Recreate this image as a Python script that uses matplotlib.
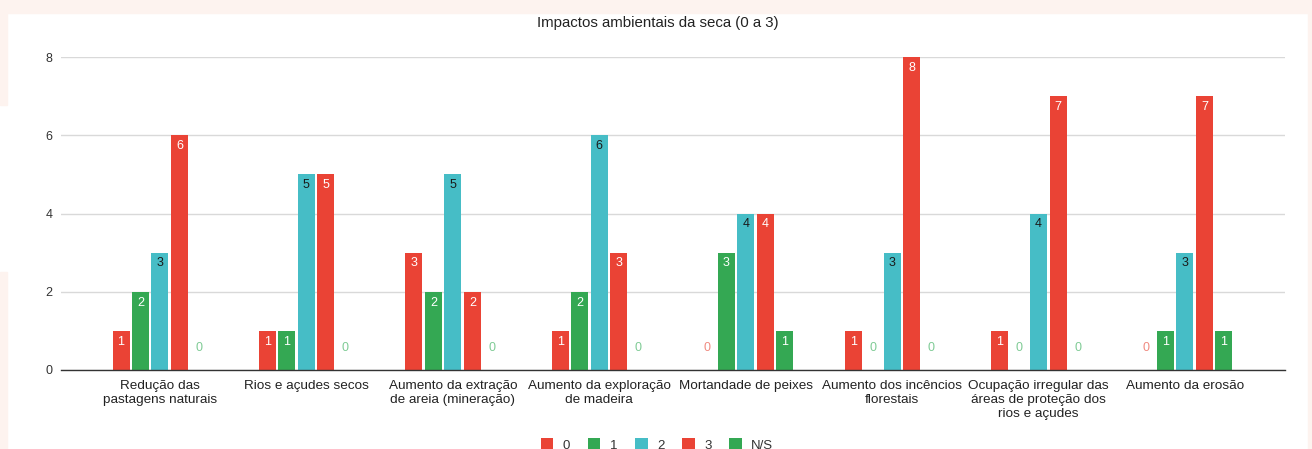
import matplotlib
matplotlib.use("Agg")
import matplotlib.pyplot as plt
from matplotlib.patches import Rectangle
import numpy as np

plt.rcParams['font.family'] = ['Liberation Sans', 'DejaVu Sans']

categories = [
    "Redução das\npastagens naturais",
    "Rios e açudes secos",
    "Aumento da extração\nde areia (mineração)",
    "Aumento da exploração\nde madeira",
    "Mortandade de peixes",
    "Aumento dos incêncios\nflorestais",
    "Ocupação irregular das\náreas de proteção dos\nrios e açudes",
    "Aumento da erosão",
]
series_names = ["0", "1", "2", "3", "N/S"]
s0 = [1, 1, 3, 1, 0, 1, 1, 0]
s1 = [2, 1, 2, 2, 3, 0, 0, 1]
s2 = [3, 5, 5, 6, 4, 3, 4, 3]
s3 = [6, 5, 2, 3, 4, 8, 7, 7]
s_ns = [0, 0, 0, 0, 1, 0, 0, 1]
series = [s0, s1, s2, s3, s_ns]

colors = ["#ea4335", "#34a853", "#46bdc6", "#ea4335", "#34a853"]
label_colors = ["white", "white", "#1a1a1a", "white", "white"]
zero_colors = ["#f08a80", "#7fcb95", "#8fd6dc", "#f08a80", "#7fcb95"]

W, H = 1312, 449
fig = plt.figure(figsize=(W / 100, H / 100), dpi=100)
fig.patch.set_facecolor("white")

peach = "#fdf3ef"
def frect(x0, y0, x1, y1):
    fig.patches.append(Rectangle((x0 / W, 1 - y1 / H), (x1 - x0) / W, (y1 - y0) / H,
                                 transform=fig.transFigure, color=peach, zorder=-10))
frect(0, 0, W, 13)
frect(W - 4, 0, W, H)
frect(0, 0, 7, 105)
frect(0, 272, 7, H)

# plot area in pixels
left_px, right_px = 61, 1285
top_px, bottom_px = 57, 370
ymax = 8.0
ax = fig.add_axes([left_px / W, 1 - bottom_px / H, (right_px - left_px) / W, (bottom_px - top_px) / H])
ax.set_facecolor("none")

x = np.arange(len(categories))
ax.set_xlim(-0.676, 7.683)
ax.set_ylim(0, ymax)

step = 0.133
bw = 0.116

for k, (vals, c) in enumerate(zip(series, colors)):
    offs = (k - 2) * step
    ax.bar(x + offs, vals, width=bw, color=c, zorder=3, label=series_names[k])
    for xi, v in zip(x + offs, vals):
        if v > 0:
            ax.annotate(str(v), (xi, v), xytext=(0, -3.5), textcoords="offset points",
                        ha="center", va="top", fontsize=9, color=label_colors[k], zorder=4)
        else:
            ax.annotate(str(v), (xi, 0), xytext=(0, 15.5), textcoords="offset points",
                        ha="center", va="center", fontsize=9, color=zero_colors[k], zorder=4)

ax.set_yticks([0, 2, 4, 6, 8])
ax.set_yticklabels(["0", "2", "4", "6", "8"], fontsize=9, color="#333333")
ax.yaxis.grid(True, color="#d9d9d9", linewidth=1.0, zorder=0)
ax.set_axisbelow(True)
ax.tick_params(axis="y", length=0, pad=6)
ax.set_xticks(x)
ax.set_xticklabels(categories, fontsize=9.7, color="#222222", linespacing=1.22)
ax.tick_params(axis="x", length=0, pad=7.5)
for s in ["top", "right", "left"]:
    ax.spines[s].set_visible(False)
ax.spines["bottom"].set_color("#333333")
ax.spines["bottom"].set_linewidth(1.0)
ax.spines["bottom"].set_zorder(5)

fig.text(658 / W, 1 - 23 / H, "Impactos ambientais da seca (0 a 3)", ha="center", va="center",
         fontsize=10.8, color="#222222")

leg = fig.legend(loc="center", bbox_to_anchor=(657 / W, 1 - 445 / H), ncol=5, frameon=False,
                 fontsize=9.5, handlelength=0.95, handleheight=0.95, handletextpad=0.7,
                 columnspacing=1.36, labelcolor="#333333")

fig.savefig("out.png", dpi=100, facecolor=fig.get_facecolor())
